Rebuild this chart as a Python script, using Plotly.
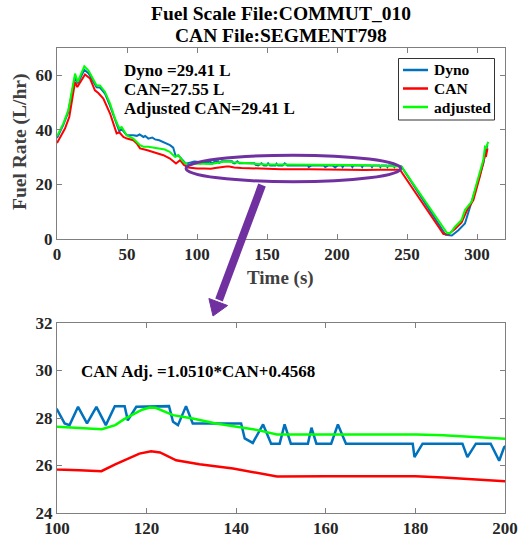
import plotly.graph_objects as go

# ---------------- data ----------------
t_dyno = [0, 4.5, 8, 12.9, 14.8, 16.4, 19.5, 22.4, 26, 28.3, 30.7, 34.3, 37.9, 41.4, 44.5, 46.2, 49.8,
          54.5, 57, 59, 61.7, 63, 65.2, 68, 70, 73, 76, 78, 80.7, 83, 84.8, 86.7, 90, 92, 95, 98,
          100, 101.7, 102.8, 104.7, 106.7, 108.8, 110.9, 112.9, 115.1, 115.8, 117.7, 125, 125.9, 127,
          128.8, 130.3, 141.1, 141.9, 143.7, 146, 147.8, 149.7, 150.8, 152.2, 156, 156.8, 157.9, 161.2,
          162.7, 164.5, 179.4, 179.8, 181.6, 190.5, 191.6, 193.5, 196.8, 198.7, 199.8, 201,
          203.3, 204, 204.7, 210.3, 211, 211.7, 217.3, 218, 218.7, 224.3, 225, 225.7, 230.3, 231, 231.7,
          235.3, 236, 236.7, 240.3, 241, 241.7, 246,
          277.5, 282, 286.7, 291.4, 295, 299.8, 304.5, 306, 307.5]
dyno = [37.0, 41.8, 46.5, 59.5, 57.0, 58.7, 62.0, 60.8, 57.3, 55.6, 55.5, 53.3, 48.8, 43.5, 39.5, 40.3, 38.0,
        38.0, 37.8, 38.3, 37.4, 37.8, 36.8, 37.2, 36.5, 36.2, 35.6, 35.0, 34.4, 33.5, 30.3, 30.6, 28.5, 27.6, 28.0, 28.4,
        28.36, 27.77, 27.7, 28.47, 27.77, 28.47, 27.7, 28.5, 28.5, 27.9, 28.47, 28.5, 27.84, 27.7,
        28.5, 27.77, 27.77, 27.14, 26.95, 27.73, 26.92, 26.92, 27.73, 26.92, 26.92, 27.59, 26.92, 26.92,
        27.73, 26.92, 26.92, 26.35, 26.92, 26.92, 26.35, 26.92, 26.92, 26.2, 26.77, 26.92,
        26.92, 26.35, 26.92, 26.92, 26.35, 26.92, 26.92, 26.35, 26.92, 26.92, 26.35, 26.92, 26.92, 26.35, 26.92,
        26.92, 26.35, 26.92, 26.92, 26.35, 26.92, 26.6,
        1.5, 1.3, 3.2, 5.7, 11.8, 19.1, 27.7, 32.0, 34.4]

t_can = [0, 5.7, 8.8, 12.9, 14.5, 17.6, 20, 23.6, 27.1, 29.5, 33.1, 37.9, 42.6, 44.5, 47.4, 50, 54.5, 57,
         59.3, 64, 68.8, 72, 76, 80.7, 85, 87.9, 90.7, 93.8, 97,
         100, 105, 109.9, 113, 118.4, 121, 123, 126.6, 131.8, 139.3, 145.2, 149.1, 160, 180, 186.2, 193, 200,
         210, 220, 230, 240, 245,
         276, 280, 284.3, 289, 292.9, 297.4, 302, 305.7, 306.5, 307.5]
can = [35.2, 40.5, 44.8, 57.6, 55.7, 58.2, 60.3, 58.8, 54.5, 53.5, 51.5, 46.0, 38.7, 39.1, 37.4, 36.8, 36.2, 35.0,
       33.2, 32.6, 31.9, 31.5, 30.7, 29.5, 27.7, 28.9, 27.1, 26.2, 25.9,
       25.83, 25.8, 25.76, 26.05, 26.5, 26.6, 26.55, 26.22, 26.05, 25.87, 25.66, 25.54, 25.55, 25.55, 25.5, 25.42, 25.34,
       25.3, 25.3, 25.4, 25.5, 25.4,
       1.8, 1.9, 3.7, 6.1, 10.6, 14.3, 22.8, 30.7, 30.5, 33.2]

t_adj = [0, 4.5, 8.1, 12.9, 14.8, 16.4, 19.5, 22.4, 26, 28.3, 30.7, 34.3, 37.9, 41.4, 44.5, 46.2, 49.8,
         54.5, 59.3, 61.7, 65.2, 70, 73.6, 77, 80.7, 84.3, 86.7, 90.2, 93.8, 97,
         100, 110, 113, 115, 117, 119, 120.7, 122, 125.9, 130.3, 135.5, 140.7, 144.8, 149.1, 160, 170, 180.3,
         186.2, 193, 200, 210, 220, 230, 240, 246,
         278.6, 281, 284.3, 289, 291.4, 296.2, 299.8, 304.5, 305.7, 306.5, 308]
adj = [37.7, 42.3, 47.2, 60.6, 57.6, 59.4, 63.3, 61.8, 58.2, 56.3, 56.3, 53.9, 49.6, 44.2, 40.5, 41.0, 38.0,
       36.8, 34.4, 33.8, 33.8, 33.4, 33.2, 32.8, 31.9, 30.1, 30.7, 28.3, 27.1, 27.5,
       27.63, 27.53, 27.7, 27.95, 28.15, 28.35, 28.44, 28.43, 28.12, 27.98, 27.77, 27.63, 27.49, 27.31, 27.31, 27.31, 27.31,
       27.27, 27.2, 27.13, 27.1, 27.0, 26.9, 26.8, 26.6,
       2.2, 2.2, 4.5, 7.0, 10.6, 13.7, 20.4, 28.9, 33.8, 33.5, 35.6]

series_names = ["Dyno", "CAN", "adjusted"]
series_colors = ["#0072BD", "#FF0000", "#00FF00"]

title_lines = ["Fuel Scale File:COMMUT_010", "CAN File:SEGMENT798"]
stats_lines = ["Dyno =29.41 L", "CAN=27.55 L", "Adjusted CAN=29.41 L"]
eq_text = "CAN Adj. =1.0510*CAN+0.4568"

top_xticks = [0, 50, 100, 150, 200, 250, 300]
top_yticks = [0, 20, 40, 60]
bot_xticks = [100, 120, 140, 160, 180, 200]
bot_yticks = [24, 26, 28, 30, 32]

# ---------------- figure ----------------
# The page body margin is removed (post_script), so the figure fills the window.
W, H = 519, 541
def fx(px):
    return px / W
def fy(py):
    return 1 - py / H

FONT = "'Liberation Serif', 'Times New Roman', serif"
fig = go.Figure()

data = [(t_dyno, dyno), (t_can, can), (t_adj, adj)]
for (tt, vv), name, col in zip(data, series_names, series_colors):
    fig.add_trace(go.Scatter(x=tt, y=vv, mode="lines", name=name, showlegend=False,
                             line=dict(color=col, width=2), xaxis="x", yaxis="y"))
for (tt, vv), name, col in zip(data, series_names, series_colors):
    fig.add_trace(go.Scatter(x=tt, y=vv, mode="lines", name=name, showlegend=False,
                             line=dict(color=col, width=2.5), xaxis="x2", yaxis="y2"))

tickfont = dict(family=FONT, size=17, color="#262626", weight="bold")
axis_common = dict(showline=True, linecolor="#7f7f7f", linewidth=1, mirror="ticks",
                   ticks="inside", ticklen=5, tickcolor="#7f7f7f", tickwidth=1,
                   showgrid=False, zeroline=False, tickfont=tickfont, automargin=False)

fig.update_layout(
    width=W, height=H, autosize=False,
    margin=dict(l=0, r=0, t=0, b=0, autoexpand=False),
    paper_bgcolor="white", plot_bgcolor="white",
    xaxis=dict(domain=[fx(57), fx(505)], range=[0, 320], tickvals=top_xticks, anchor="y", **axis_common),
    yaxis=dict(domain=[fy(239), fy(48)], range=[0, 70], tickvals=top_yticks, anchor="x", **axis_common),
    xaxis2=dict(domain=[fx(57), fx(505)], range=[100, 200], tickvals=bot_xticks, anchor="y2", **axis_common),
    yaxis2=dict(domain=[fy(513), fy(323)], range=[24, 32], tickvals=bot_yticks, anchor="x2", **axis_common),
    showlegend=False,
)

ann = []
for i, line in enumerate(title_lines):
    ann.append(dict(text=line, x=fx(281), y=fy(13.5 + 22 * i), xref="paper", yref="paper",
                    xanchor="center", yanchor="middle", showarrow=False,
                    font=dict(family=FONT, size=19.5, color="black", weight="bold")))
for i, line in enumerate(stats_lines):
    ann.append(dict(text=line, x=fx(122), y=fy(70.5 + 19 * i), xref="paper", yref="paper",
                    xanchor="left", yanchor="middle", showarrow=False,
                    font=dict(family=FONT, size=17, color="black", weight="bold")))
ann.append(dict(text=eq_text, x=fx(79), y=fy(371), xref="paper", yref="paper",
                xanchor="left", yanchor="middle", showarrow=False,
                font=dict(family=FONT, size=17, color="black", weight="bold")))
ann.append(dict(text="Time (s)", x=fx(280), y=fy(278), xref="paper", yref="paper",
                xanchor="center", yanchor="middle", showarrow=False,
                font=dict(family=FONT, size=19, color="#404040", weight="bold")))
ann.append(dict(text="Fuel Rate (L/hr)", x=fx(20), y=fy(142), xref="paper", yref="paper",
                xanchor="center", yanchor="middle", showarrow=False, textangle=-90,
                font=dict(family=FONT, size=19.5, color="#404040", weight="bold")))

PURPLE = "#7030A0"
shapes = []
# legend (box, line samples, labels)
leg_x0, leg_x1, leg_y0, leg_y1 = 398.5, 494.5, 58.5, 120
leg_rows = [70, 88.5, 107]
shapes.append(dict(type="rect", xref="paper", yref="paper", x0=fx(leg_x0), x1=fx(leg_x1),
                   y0=fy(leg_y1), y1=fy(leg_y0), line=dict(color="#333333", width=1), fillcolor="white",
                   layer="above"))
for ry, name, col in zip(leg_rows, series_names, series_colors):
    shapes.append(dict(type="line", xref="paper", yref="paper", x0=fx(403), x1=fx(428),
                       y0=fy(ry), y1=fy(ry), line=dict(color=col, width=2.5), layer="above"))
    ann.append(dict(text=name, x=fx(431.5), y=fy(ry), xref="paper", yref="paper",
                    xanchor="left", yanchor="middle", showarrow=False,
                    font=dict(family=FONT, size=15.5, color="black", weight="bold")))

# ellipse highlighting the zoomed region (data coordinates of top plot)
shapes.append(dict(type="circle", xref="x", yref="y", x0=92.2, x1=245.5, y0=21.0, y1=30.7,
                   line=dict(color=PURPLE, width=3)))
# arrow shaft + head (paper coordinates)
sx, sy = 262, 185
bx, by = 218.3, 302.0
tx, ty = 213, 316
c1 = (227.6, 305.5)
c2 = (208.9, 298.5)
shapes.append(dict(type="line", xref="paper", yref="paper", x0=fx(sx), y0=fy(sy), x1=fx(bx + 0.7), y1=fy(by - 2),
                   line=dict(color=PURPLE, width=8)))
shapes.append(dict(type="path", xref="paper", yref="paper",
                   path=f"M {fx(c1[0])} {fy(c1[1])} L {fx(tx)} {fy(ty)} L {fx(c2[0])} {fy(c2[1])} Z",
                   fillcolor=PURPLE, line=dict(color=PURPLE, width=1)))
fig.update_layout(shapes=shapes, annotations=ann)

fig.write_html("out.html",
               config={"displayModeBar": False, "staticPlot": True},
               post_script="document.body.style.margin='0px';document.body.style.overflow='hidden';")
